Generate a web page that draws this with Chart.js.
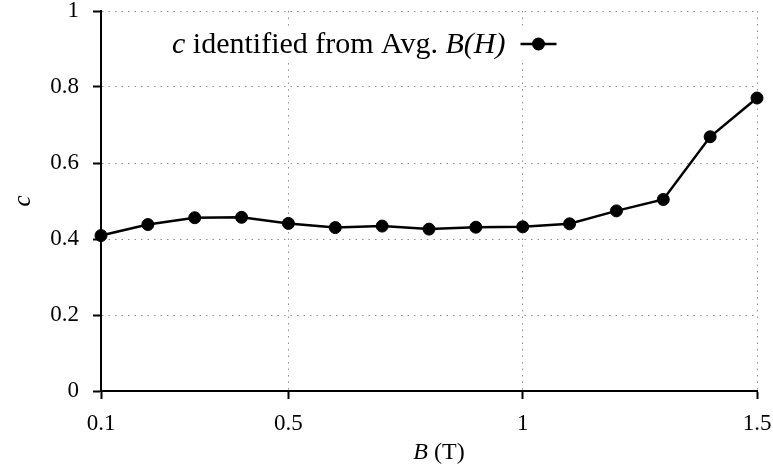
<!DOCTYPE html>
<html>
<head>
<meta charset="utf-8">
<script src="https://cdn.jsdelivr.net/npm/chart.js@4"></script>
<style>
    html, body { margin: 0; padding: 0; background: #fff; }
    #wrap { width: 773px; height: 472px; }
</style>
</head>
<body>
<div id="wrap"><canvas id="cChart" width="773" height="472"></canvas></div>
<script>
// field values B (T) and identified c
const fieldB = [0.1, 0.2, 0.3, 0.4, 0.5, 0.6, 0.7, 0.8, 0.9, 1.0, 1.1, 1.2, 1.3, 1.4, 1.5];
const cValues = [0.409, 0.438, 0.456, 0.457, 0.441, 0.430, 0.434, 0.426, 0.431, 0.432, 0.440, 0.474, 0.504, 0.669, 0.771];
const xTicks = [0.1, 0.5, 1, 1.5];
const yTicks = [0, 0.2, 0.4, 0.6, 0.8, 1];
const legendLabel = ['c', ' identified from Avg. ', 'B(H)'];

const FONT = "'Liberation Serif', 'Times New Roman', serif";
const FS = 23;
const LFS = 30;

// draws legend and axis titles (mixed italic text)
const textPlugin = {
    id: 'textPlugin',
    afterDraw(chart) {
        const ctx = chart.ctx;
        const area = chart.chartArea;
        ctx.save();
        ctx.fillStyle = '#000';
        ctx.textBaseline = 'middle';

        // y title
        ctx.save();
        ctx.translate(23, (area.top + area.bottom) / 2);
        ctx.rotate(-Math.PI / 2);
        ctx.textAlign = 'center';
        ctx.font = 'italic 25px ' + FONT;
        ctx.fillText('c', 0, 0);
        ctx.restore();

        // x title
        const parts = [['B', true], [' (T)', false]];
        let w = 0;
        parts.forEach(p => {
            ctx.font = (p[1] ? 'italic ' : '') + '24px ' + FONT;
            w += ctx.measureText(p[0]).width;
        });
        let x = 439 - w / 2;
        ctx.textAlign = 'left';
        parts.forEach(p => {
            ctx.font = (p[1] ? 'italic ' : '') + '24px ' + FONT;
            ctx.fillText(p[0], x, 453);
            x += ctx.measureText(p[0]).width;
        });

        // legend
        const ly = 44;
        let lx = 172;
        let tw = 0;
        legendLabel.forEach((t, i) => {
            ctx.font = (i !== 1 ? 'italic ' : '') + LFS + 'px ' + FONT;
            tw += ctx.measureText(t).width;
        });
        ctx.fillStyle = '#fff';
        ctx.fillRect(lx - 10, 28, tw + 75, 33);
        ctx.fillStyle = '#000';
        ctx.textBaseline = 'alphabetic';
        legendLabel.forEach((t, i) => {
            ctx.font = (i !== 1 ? 'italic ' : '') + LFS + 'px ' + FONT;
            ctx.fillText(t, lx, ly + 9);
            lx += ctx.measureText(t).width;
        });
        const s0 = lx + 15, s1 = s0 + 36;
        ctx.strokeStyle = '#000';
        ctx.lineWidth = 2.5;
        ctx.beginPath();
        ctx.moveTo(s0, ly);
        ctx.lineTo(s1, ly);
        ctx.stroke();
        ctx.beginPath();
        ctx.arc((s0 + s1) / 2, ly, 6.5, 0, Math.PI * 2);
        ctx.fill();
        ctx.restore();
    }
};

new Chart(document.getElementById('cChart'), {
    type: 'line',
    data: {
        datasets: [{
            label: 'c identified from Avg. B(H)',
            data: fieldB.map((b, i) => ({x: b, y: cValues[i]})),
            borderColor: '#000',
            backgroundColor: '#000',
            borderWidth: 2.5,
            pointRadius: 6,
            pointBackgroundColor: '#000',
            pointBorderColor: '#000',
            pointBorderWidth: 1,
            tension: 0,
            clip: false
        }]
    },
    options: {
        responsive: false,
        animation: false,
        layout: {padding: {left: 0, right: 16, top: 11, bottom: 0}},
        plugins: {
            legend: {display: false},
            tooltip: {enabled: false}
        },
        scales: {
            x: {
                type: 'linear',
                min: 0.1,
                max: 1.5,
                afterBuildTicks: s => { s.ticks = xTicks.map(v => ({value: v})); },
                afterFit: s => { s.height = 81; s.paddingLeft = 0; s.paddingRight = 0; },
                ticks: {
                    color: '#000',
                    font: {family: FONT, size: FS, lineHeight: 1},
                    padding: 13,
                    maxRotation: 0,
                    callback: v => String(v)
                },
                grid: {
                    color: c => (c.tick && c.tick.value === 0.1) ? 'rgba(0,0,0,0)' : '#8f8f8f',
                    lineWidth: 1,
                    tickColor: '#000',
                    tickLength: 8,
                    tickWidth: 2
                },
                border: {color: '#000', width: 2, dash: [1.5, 5]}
            },
            y: {
                min: 0,
                max: 1,
                afterBuildTicks: s => { s.ticks = yTicks.map(v => ({value: v})); },
                afterFit: s => { s.width = 101; s.paddingTop = 0; s.paddingBottom = 0; },
                ticks: {
                    color: '#000',
                    font: {family: FONT, size: FS, lineHeight: 1},
                    padding: 14,
                    callback: v => String(+v.toFixed(1))
                },
                grid: {
                    color: c => (c.tick && c.tick.value === 0) ? 'rgba(0,0,0,0)' : '#8f8f8f',
                    lineWidth: 1,
                    tickColor: '#000',
                    tickLength: 8,
                    tickWidth: 2
                },
                border: {color: '#000', width: 2, dash: [1.5, 5]}
            }
        }
    },
    plugins: [textPlugin]
});
</script>
</body>
</html>
